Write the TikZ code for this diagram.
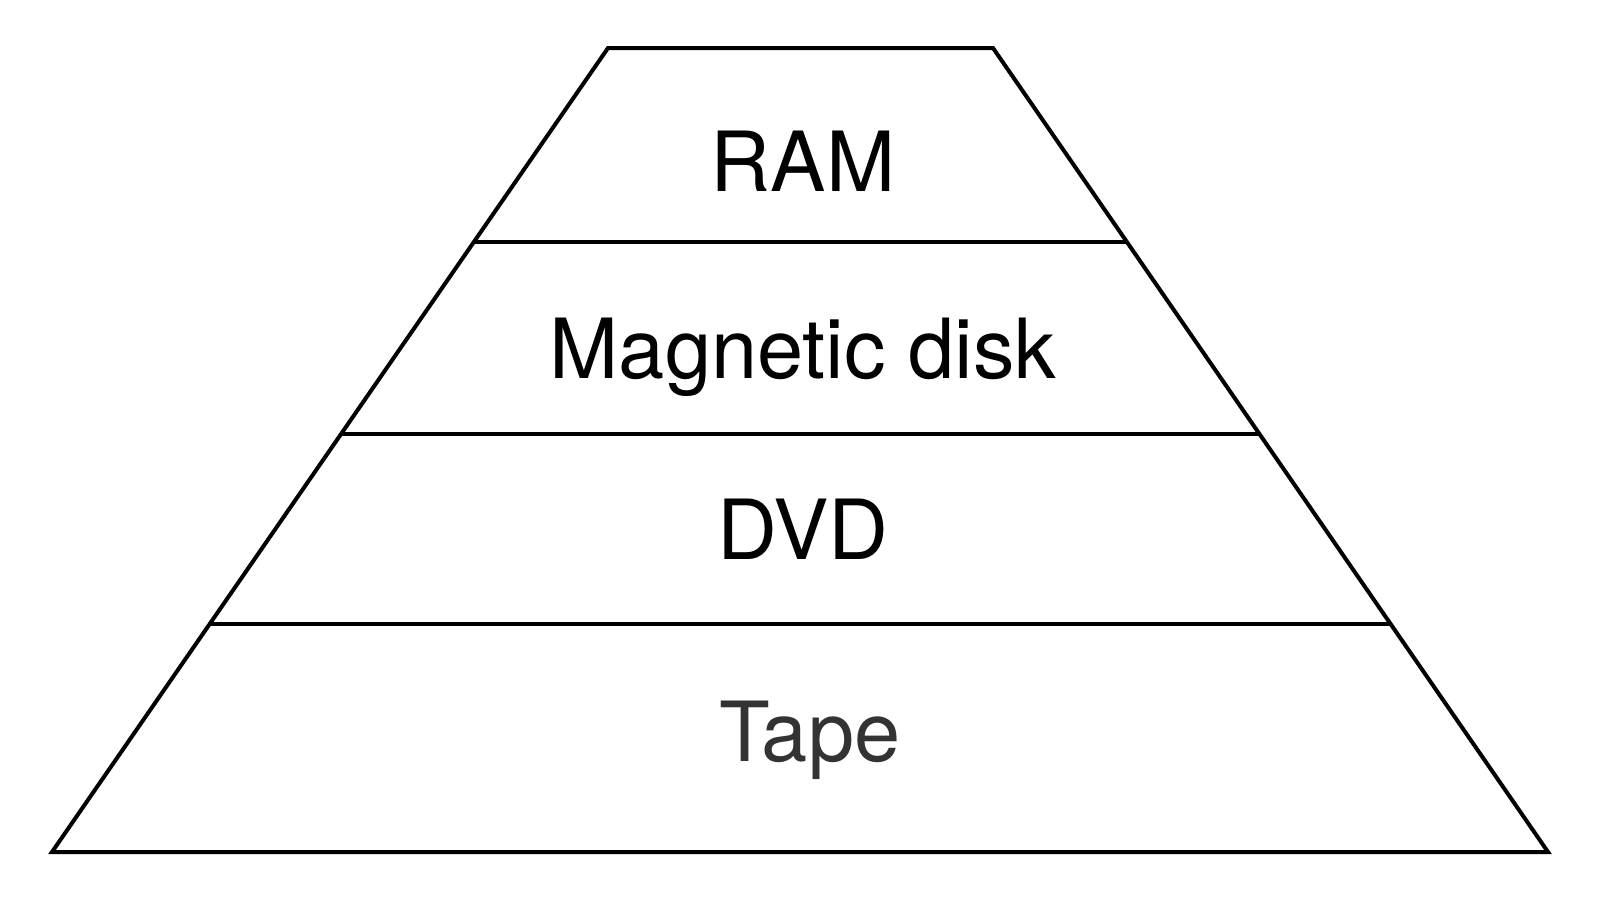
\documentclass[tikz,border=0pt]{standalone}
\usepackage{fontspec}
\setmainfont{TeX Gyre Heros}
\usetikzlibrary{calc}
\definecolor{tapegray}{HTML}{333333}
\begin{document}
\begin{tikzpicture}[x=1pt,y=-1pt,
  edge/.style={line width=4pt,line join=miter,black},
  lbl/.style={anchor=base,inner sep=0pt,font=\fontsize{83}{96}\selectfont}]
\useasboundingbox (0,0) rectangle (1600,900);
\coordinate (tl) at (608,48);
\coordinate (tr) at (993,48);
\coordinate (bl) at (52,852);
\coordinate (br) at (1548,852);
\draw[edge] (tl) -- (tr) -- (br) -- (bl) -- cycle;
\foreach \n/\yy in {a/242,b/434,c/624}{
  \coordinate (l\n) at ($(tl)!{(\yy-48)/804}!(bl)$);
  \coordinate (r\n) at ($(tr)!{(\yy-48)/804}!(br)$);
  \draw[edge] (l\n) -- (r\n);
}
\node[lbl] (ram) at (803,191) {RAM};
\node[lbl] (mag) at (803,378) {Magnetic disk};
\node[lbl] (dvd) at (803,559) {DVD};
\node[lbl,text=tapegray] (tape) at (810,761) {Tape};
\end{tikzpicture}
\end{document}
